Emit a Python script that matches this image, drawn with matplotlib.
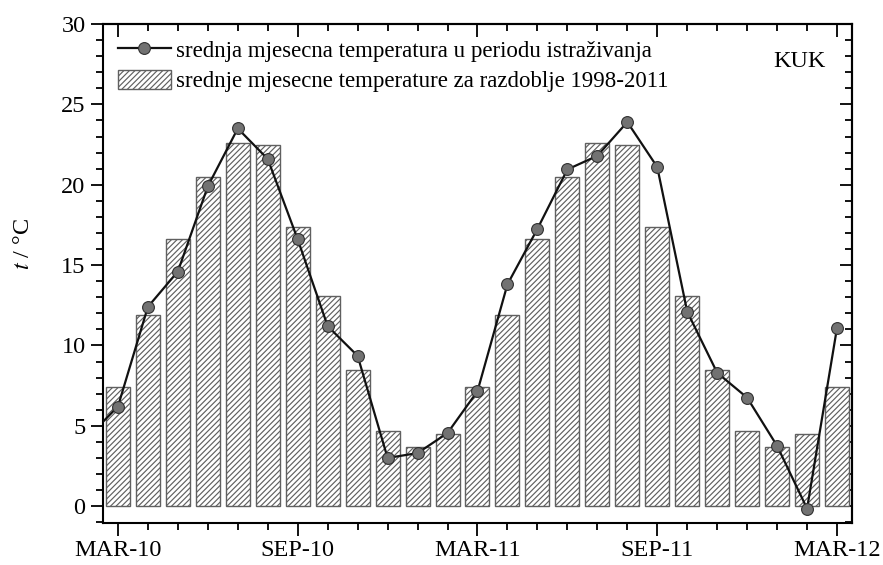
import numpy as np
import matplotlib
matplotlib.use('Agg')
import matplotlib.pyplot as plt
from matplotlib.lines import Line2D
from matplotlib.patches import Patch
from matplotlib.ticker import MultipleLocator, FixedLocator

# months from FEB-10 (index -1, only its line segment shows) to MAR-12
months = np.arange(-1, 25)
measured = [4.3,
            6.2, 12.4, 14.6, 19.9, 23.5, 21.6, 16.6, 11.2, 9.35, 3.0, 3.3, 4.55,
            7.15, 13.8, 17.25, 20.95, 21.8, 23.9, 21.1, 12.1, 8.3, 6.75, 3.75, -0.15,
            11.1]

# long-term means 1998-2011, MAR..FEB, repeated over the period
climate_month = [7.4, 11.9, 16.6, 20.5, 22.6, 22.45, 17.4, 13.1, 8.5, 4.7, 3.7, 4.5]
climate = climate_month * 2 + [climate_month[0]]
bar_x = np.arange(len(climate))

tick_pos = [0, 6, 12, 18, 24]
tick_labels = ['MAR-10', 'SEP-10', 'MAR-11', 'SEP-11', 'MAR-12']

plt.rcParams['font.family'] = ['Liberation Serif', 'DejaVu Serif']
plt.rcParams['mathtext.fontset'] = 'stix'
plt.rcParams['hatch.color'] = '#5a5a5a'
plt.rcParams['hatch.linewidth'] = 0.85

fig = plt.figure(figsize=(8.83, 5.65), dpi=100)
ax = fig.add_axes([0.1166, 0.0743, 0.8483, 0.8832])

ax.bar(bar_x, climate, width=0.8, color='white', edgecolor='#606060',
       linewidth=1.0, hatch='//////', zorder=2)
ax.plot(months, measured, '-', color='#111111', lw=1.6, zorder=3)
ax.plot(months, measured, 'o', color='#727272', mec='#303030', mew=0.8,
        ms=8.5, zorder=4)

ax.set_xlim(-0.5, 24.5)
ax.set_ylim(-1.05, 30)

ax.xaxis.set_major_locator(FixedLocator(tick_pos))
ax.set_xticklabels(tick_labels)
ax.xaxis.set_minor_locator(MultipleLocator(1))
ax.yaxis.set_major_locator(MultipleLocator(5))
ax.yaxis.set_minor_locator(MultipleLocator(1))
ax.tick_params(which='both', direction='out', width=1.3, labelsize=17.5)
ax.tick_params(which='major', length=9)
ax.tick_params(which='minor', length=5)
ax.tick_params(axis='x', pad=3)

# mirrored axes with inward ticks
top = ax.secondary_xaxis('top')
top.xaxis.set_major_locator(FixedLocator(tick_pos))
top.xaxis.set_minor_locator(MultipleLocator(1))
top.tick_params(which='both', direction='in', width=1.3, labeltop=False)
top.tick_params(which='major', length=9)
top.tick_params(which='minor', length=5)
right = ax.secondary_yaxis('right')
right.yaxis.set_major_locator(MultipleLocator(5))
right.yaxis.set_minor_locator(MultipleLocator(1))
right.tick_params(which='both', direction='in', width=1.3, labelright=False)
right.tick_params(which='major', length=9)
right.tick_params(which='minor', length=5)

for sp in list(ax.spines.values()) + [top.spines['top'], right.spines['right']]:
    sp.set_linewidth(1.5)

ax.set_ylabel(r'$t$ / °C', fontsize=17.5)
ax.yaxis.set_label_coords(-0.092, 0.56)

handles = [Line2D([], [], color='#111111', lw=1.6, marker='o', ms=8.5,
                  mfc='#727272', mec='#303030', mew=0.8),
           Patch(facecolor='white', edgecolor='#606060', hatch='//////')]
labels = ['srednja mjesecna temperatura u periodu istraživanja',
          'srednje mjesecne temperature za razdoblje 1998-2011']
ax.legend(handles, labels, loc='upper left', frameon=False, fontsize=16.5,
          numpoints=1, handlelength=2.3, handleheight=0.95,
          borderaxespad=0.25, labelspacing=0.35, handletextpad=0.25)

ax.text(0.965, 0.925, 'KUK', transform=ax.transAxes, ha='right', va='center',
        fontsize=17.5)

fig.savefig('out.png', dpi=100)
